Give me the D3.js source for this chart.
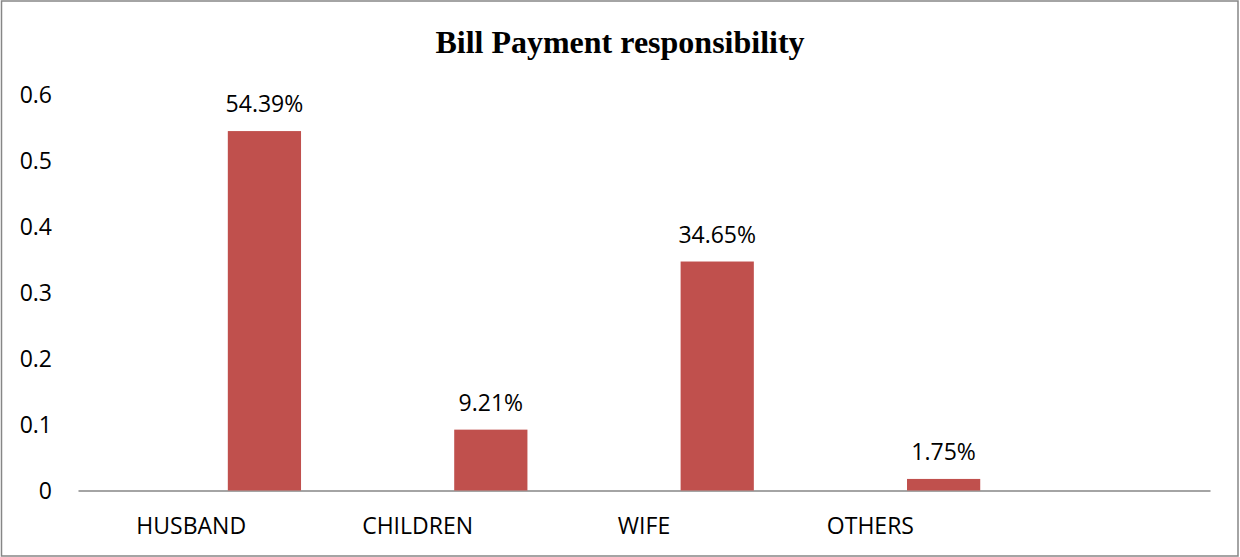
<!DOCTYPE html>
<html>
<head>
<meta charset="utf-8">
<script src="https://cdn.jsdelivr.net/npm/d3@7"></script>
<style>
  body { margin: 0; background: #fff; }
</style>
</head>
<body>
<svg width="1240" height="557"></svg>
<script>
var categories = ["HUSBAND", "CHILDREN", "WIFE", "OTHERS", ""];
var seriesKeys = ["blank", "share"];
var shares = [0.5439, 0.0921, 0.3465, 0.0175];
var yTicks = [0, 0.1, 0.2, 0.3, 0.4, 0.5, 0.6];
var title = "Bill Payment responsibility";

var svg = d3.select("svg"),
  width = +svg.attr("width"),
  height = +svg.attr("height");

var labelFont = "'Open Sans', sans-serif";

// outer chart frame
svg
  .append("rect")
  .attr("x", 1.5)
  .attr("y", 1)
  .attr("width", width - 3.5)
  .attr("height", height - 2)
  .attr("fill", "white")
  .attr("stroke", "#868686")
  .attr("stroke-width", 1.5);

const xScale = d3.scaleBand().domain(categories).range([78, 1210]);
// excel style: two series slots per category, first one empty
const xInner = d3
  .scaleBand()
  .domain(seriesKeys)
  .range([0, xScale.bandwidth()])
  .paddingInner(0.5)
  .paddingOuter(0.023);
const yScale = d3.scaleLinear().domain([0, 0.6]).range([490.5, 94]);

svg
  .append("text")
  .attr("x", 620)
  .attr("y", 53)
  .attr("text-anchor", "middle")
  .attr("font-family", "'Liberation Serif', 'Times New Roman', serif")
  .attr("font-weight", "bold")
  .attr("font-size", 32)
  .attr("fill", "black")
  .text(title);

// y axis, labels only
var yAxis = svg
  .append("g")
  .attr("transform", "translate(78,0)")
  .call(
    d3
      .axisLeft(yScale)
      .tickValues(yTicks)
      .tickFormat(function (d) {
        return String(d);
      })
      .tickSize(0)
      .tickPadding(26)
  );
yAxis.select(".domain").remove();
yAxis
  .selectAll("text")
  .attr("font-family", labelFont)
  .attr("font-size", 23)
  .attr("fill", "black")
  .attr("dy", "0.36em");

// x axis
var xAxis = svg
  .append("g")
  .attr("transform", "translate(0," + yScale(0) + ")")
  .call(d3.axisBottom(xScale).tickSize(0).tickSizeOuter(0));
xAxis.select(".domain").attr("stroke", "#868686").attr("stroke-width", 1.5);
xAxis
  .selectAll("text")
  .attr("font-family", labelFont)
  .attr("font-size", 23)
  .attr("fill", "black")
  .attr("y", 43.5)
  .attr("dy", 0);

var bars = shares.map(function (v, i) {
  return { cat: categories[i], value: v };
});

svg
  .selectAll("rect.bar")
  .data(bars)
  .enter()
  .append("rect")
  .attr("class", "bar")
  .attr("x", function (d) {
    return xScale(d.cat) + xInner("share");
  })
  .attr("y", function (d) {
    return yScale(d.value);
  })
  .attr("width", xInner.bandwidth())
  .attr("height", function (d) {
    return yScale(0) - yScale(d.value);
  })
  .attr("fill", "#C0504D");

svg
  .selectAll("text.val")
  .data(bars)
  .enter()
  .append("text")
  .attr("class", "val")
  .attr("x", function (d) {
    return xScale(d.cat) + xInner("share") + xInner.bandwidth() / 2;
  })
  .attr("y", function (d) {
    return yScale(d.value) - 19;
  })
  .attr("text-anchor", "middle")
  .attr("font-family", labelFont)
  .attr("font-size", 23)
  .attr("fill", "black")
  .text(function (d) {
    return d3.format(".2%")(d.value);
  });
</script>
</body>
</html>
